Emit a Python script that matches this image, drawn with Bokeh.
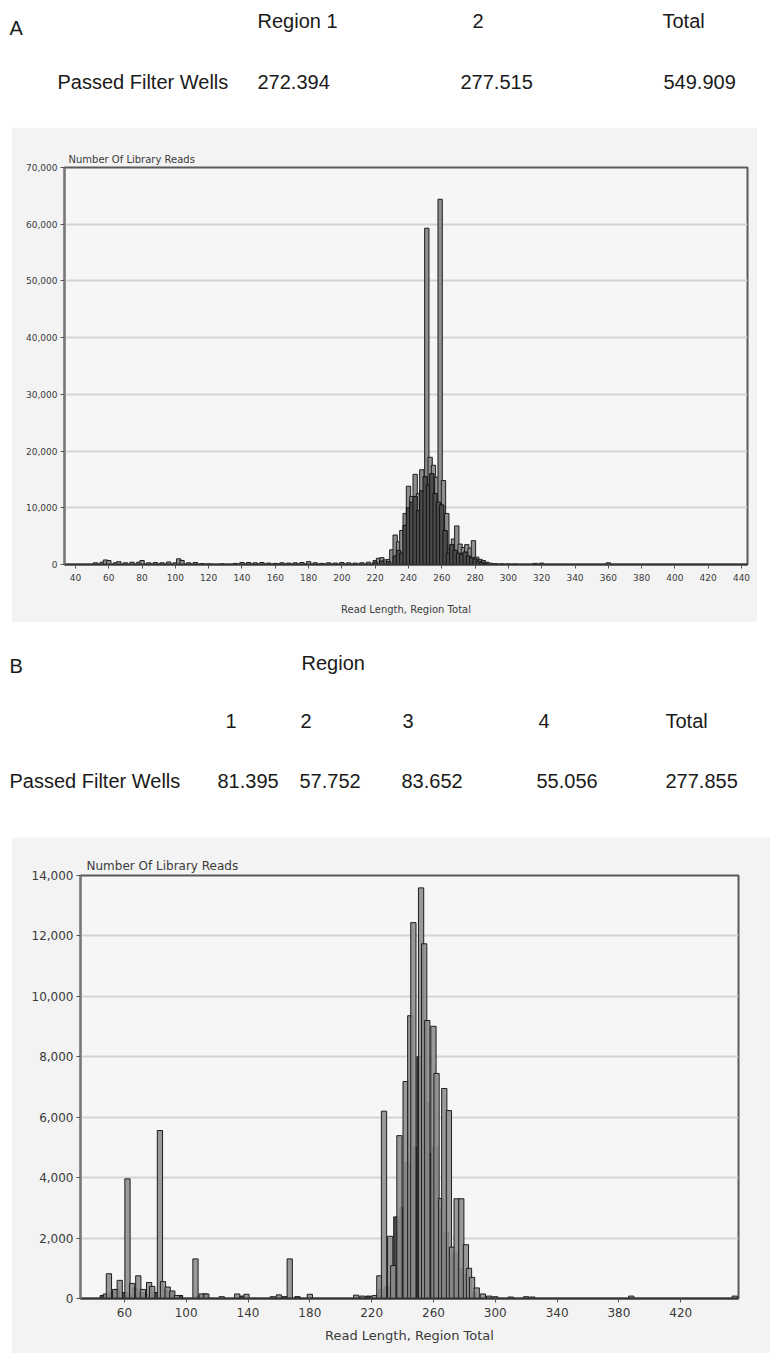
from bokeh.plotting import figure
from bokeh.layouts import column, row
from bokeh.models import Range1d, NumeralTickFormatter, FixedTicker, Spacer
from bokeh.core.properties import value
from bokeh.embed import file_html
from bokeh.resources import INLINE

# ---------------- data ----------------
# Panel A table
a_cols = ["Region 1", "2", "Total"]
a_wells = ["272.394", "277.515", "549.909"]
# Panel B table
b_cols = ["1", "2", "3", "4", "Total"]
b_wells = ["81.395", "57.752", "83.652", "55.056", "277.855"]

# Panel A histogram (read length -> number of reads)
a_len_1 = [52, 56, 58, 60, 64, 66, 70, 74, 78, 80, 84, 88, 92, 96, 100, 102, 104, 108, 112, 116,
           120, 128, 136, 140, 144, 148, 152, 156, 160, 164, 168, 172, 176, 180, 184, 188, 192,
           196, 200, 204, 208, 212, 216, 220, 222, 224, 226, 228, 230, 232, 234, 236, 238, 240,
           242, 244, 246, 248, 251, 253, 255, 257, 259, 261, 263, 265, 267, 269, 271, 273, 275,
           277, 279, 281, 283, 285, 287, 289, 292, 296, 300, 304, 316, 320, 360]
a_cnt_1 = [300, 400, 800, 700, 300, 500, 300, 400, 400, 700, 300, 350, 300, 450, 300, 1000, 700,
           300, 350, 150, 100, 100, 200, 350, 350, 300, 350, 250, 200, 300, 250, 300, 350, 500,
           300, 200, 300, 250, 350, 300, 250, 300, 400, 700, 1100, 1200, 800, 900, 2600, 5200,
           4000, 6000, 9000, 13800, 12000, 15900, 12500, 16700, 59300, 18900, 17500, 15400,
           64400, 14800, 9000, 2700, 4500, 6800, 3600, 3000, 3500, 2900, 4200, 1300, 900, 700,
           400, 250, 150, 100, 80, 60, 200, 250, 300]
a_len_2 = [220, 224, 228, 232, 234, 236, 238, 240, 242, 244, 246, 248, 250, 252, 254, 256, 258,
           260, 262, 264, 266, 268, 270, 272, 274, 276, 278, 280, 282, 284, 286]
a_cnt_2 = [400, 600, 500, 1500, 2500, 2000, 6900, 10000, 11000, 12000, 9500, 13000, 15500, 14000,
           16000, 12500, 11000, 10500, 6000, 2000, 3500, 2500, 2000, 1800, 2200, 1500, 1200, 1000,
           600, 400, 200]

# Panel B histogram
b_len_1 = [48, 50, 54, 57, 62, 65, 69, 72, 76, 78, 83, 85, 88, 91, 94, 106, 110, 113, 123, 133,
           139, 156, 160, 167, 180, 210, 214, 222, 225, 228, 232, 234, 238, 242, 245, 247, 252,
           254, 256, 260, 262, 265, 267, 270, 272, 275, 278, 281, 283, 285, 288, 292, 296, 300,
           310, 320, 324, 388, 455]
b_cnt_1 = [150, 820, 300, 600, 3960, 500, 750, 300, 530, 400, 5560, 560, 380, 250, 100, 1310, 150,
           150, 60, 150, 140, 60, 120, 1310, 140, 110, 80, 100, 750, 6200, 2060, 1090, 5390, 7180,
           9360, 12440, 13590, 11740, 9200, 9010, 7450, 3310, 6950, 6220, 1700, 3300, 3300, 1780,
           1000, 700, 350, 150, 80, 60, 50, 60, 50, 80, 80]
b_len_2 = [46, 52, 55, 60, 63, 67, 71, 74, 80, 86, 90, 96, 108, 112, 136, 164, 172, 218, 226, 230,
           236, 240, 243, 249, 251, 255, 258, 261, 263, 266, 268, 271, 274, 277, 280, 283, 286]
b_cnt_2 = [100, 200, 300, 200, 150, 350, 200, 150, 200, 300, 200, 100, 80, 150, 80, 60, 60, 80,
           300, 400, 2700, 3000, 4500, 5000, 8000, 6500, 4800, 5000, 3000, 1800, 2200, 1400, 1500,
           1000, 800, 400, 200]

a_yticks = [0, 10000, 20000, 30000, 40000, 50000, 60000, 70000]
a_xticks = list(range(40, 441, 20))
b_yticks = [0, 2000, 4000, 6000, 8000, 10000, 12000, 14000]
b_xticks = [60, 100, 140, 180, 220, 260, 300, 340, 380, 420]

FONT = "Liberation Sans"
W = 770


def header(height, items):
    f = figure(width=W, height=height, x_range=Range1d(0, W), y_range=Range1d(height, 0),
               toolbar_location=None, output_backend="svg", min_border=0,
               x_axis_location=None, y_axis_location=None)
    f.grid.visible = False
    f.outline_line_color = None
    f.background_fill_color = "white"
    f.border_fill_color = "white"
    xs = [it[0] for it in items]
    ys = [it[1] for it in items]
    ts = [it[2] for it in items]
    f.text(x=xs, y=ys, text=ts, text_font=value(FONT), text_font_size="20px",
           text_baseline="middle", text_align="left", text_color="#1a1a1a")
    return f


# Header A (page coordinates; header starts at page top)
a_items = [(9, 27, "A")]
for xpos, t in zip([257, 472, 662], a_cols):
    a_items.append((xpos, 20, t))
a_items.append((57, 81, "Passed Filter Wells"))
for xpos, t in zip([257, 460, 663], a_wells):
    a_items.append((xpos, 81, t))
head_a = header(127, a_items)

# Header B (starts at page y = 622)
B0 = 622
b_items = [(9, 665 - B0, "B"), (301, 662 - B0, "Region")]
for xpos, t in zip([225, 300, 402, 538, 665], b_cols):
    b_items.append((xpos, 720 - B0, t))
b_items.append((9, 780 - B0, "Passed Filter Wells"))
for xpos, t in zip([217, 299, 401, 536, 665], b_wells):
    b_items.append((xpos, 780 - B0, t))
head_b = header(215, b_items)


def hist(width, height, xr, yr, borders, yticks, xticks, tick_fs, lab_fs, ttl_fs, s1, s2,
         dark_front, bar_w, ttl_off, lab_standoff):
    p = figure(width=width, height=height, x_range=Range1d(*xr), y_range=Range1d(*yr),
               toolbar_location=None, output_backend="svg",
               min_border_left=borders[0], min_border_right=borders[1],
               min_border_top=borders[2], min_border_bottom=borders[3],
               title="Number Of Library Reads")
    p.title.align = "left"
    p.title.offset = ttl_off
    p.title.standoff = 6
    p.title.text_font = "DejaVu Sans"
    p.title.text_font_style = "normal"
    p.title.text_font_size = ttl_fs
    p.title.text_color = "#3a3a3a"
    p.background_fill_color = "#f6f6f6"
    p.border_fill_color = "#f3f3f3"
    p.outline_line_color = "#5a5a5a"
    p.outline_line_width = 2
    p.xgrid.visible = False
    p.ygrid.grid_line_color = "#d4d4d4"
    p.ygrid.grid_line_width = 2
    p.ygrid.ticker = FixedTicker(ticks=yticks)

    gray = dict(fill_color="#8f8f8f", line_color="#1e1e1e", line_width=1)
    dark = dict(fill_color="#4c4c4c", line_color="#111111", line_width=1)
    if dark_front:
        p.vbar(x=s1[0], top=s1[1], width=bar_w, **gray)
        p.vbar(x=s2[0], top=s2[1], width=bar_w, **dark)
    else:
        p.vbar(x=s2[0], top=s2[1], width=bar_w, **dark)
        p.vbar(x=s1[0], top=s1[1], width=bar_w, fill_alpha=0.9, **gray)

    p.yaxis.ticker = FixedTicker(ticks=yticks)
    p.yaxis.formatter = NumeralTickFormatter(format="0,0")
    p.xaxis.ticker = FixedTicker(ticks=xticks)
    for ax in (p.xaxis[0], p.yaxis[0]):
        ax.minor_tick_line_color = None
        ax.major_tick_in = 0
        ax.major_tick_out = 4
        ax.major_label_text_font = "DejaVu Sans"
        ax.major_label_text_font_size = tick_fs
        ax.major_label_text_color = "#3a3a3a"
        ax.major_tick_line_color = "#555555"
    p.yaxis.axis_line_color = "#777777"
    p.yaxis.axis_line_width = 2
    p.yaxis.major_label_standoff = 3
    p.xaxis.axis_line_color = "#333333"
    p.xaxis.axis_line_width = 2
    p.xaxis.major_label_standoff = 5
    p.xaxis.axis_label = "Read Length, Region Total"
    p.xaxis.axis_label_text_font = "DejaVu Sans"
    p.xaxis.axis_label_text_font_style = "normal"
    p.xaxis.axis_label_text_font_size = lab_fs
    p.xaxis.axis_label_text_color = "#3a3a3a"
    p.xaxis.axis_label_standoff = lab_standoff
    return p


chart_a = hist(746, 495, (33.4, 443.6), (0, 70000), (53, 10, 40, 58), a_yticks, a_xticks,
               "9px", "10px", "10px", (a_len_1, a_cnt_1), (a_len_2, a_cnt_2), True, 2.6,
               4, 20)
chart_b = hist(759, 516, (31.6, 457.4), (0, 14000), (69, 32, 38, 55), b_yticks, b_xticks,
               "12px", "13px", "12px", (b_len_1, b_cnt_1), (b_len_2, b_cnt_2), False, 3.4,
               6, 8)

layout = column(head_a, row(Spacer(width=11), chart_a), head_b, row(Spacer(width=11), chart_b))

open("out.html", "w").write(file_html(layout, INLINE))
